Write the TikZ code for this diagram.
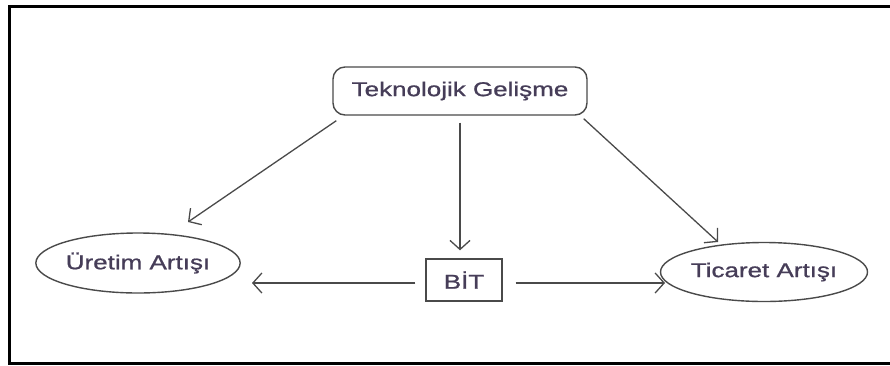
\documentclass[tikz,border=0pt]{standalone}
\usepackage{fontspec}
\setmainfont[FakeBold=0.8]{Liberation Sans}
\usetikzlibrary{arrows.meta,shapes.geometric}
\definecolor{ink}{HTML}{463D58}
\definecolor{edge}{HTML}{4A4A4A}
\newcommand{\widetxt}[1]{\scalebox{1.3}[1]{#1}}
\tikzset{
  lbl/.style={text=ink, font=\fontsize{20}{22}\selectfont, inner sep=0pt},
  roundbox/.style={lbl, draw=edge, line width=1.4pt, rounded corners=12pt,
    minimum width=254pt, minimum height=48pt},
  oval/.style={lbl, ellipse, draw=edge, line width=1.4pt},
  squarebox/.style={lbl, draw=edge, line width=1.4pt, minimum width=76pt, minimum height=42pt},
  arr/.style={draw=edge, line width=1.3pt, -{Straight Barb[length=9pt,width=20pt,line width=1.3pt]}}
}
\begin{document}
\begin{tikzpicture}[x=1pt,y=-1pt]
  \useasboundingbox (0,0) rectangle (890,365);
  % frame
  \draw[line width=3pt] (9,6.5) rectangle (898,363);

  % nodes
  \node[roundbox] (tek) at (460,91) {\widetxt{Teknolojik Gelişme}};
  \node[oval, minimum width=197pt, minimum height=60pt] (ure) at (138,263) {\widetxt{Üretim Artışı}};
  \node[oval, minimum width=182pt, minimum height=59pt] (tic) at (764,272) {\widetxt{Ticaret Artışı}};
  \node[squarebox] (bit) at (464,280) {\widetxt{BİT}};

  % arrow tips
  \coordinate (ureTip) at (188,222);
  \coordinate (ticTip) at (718,242);
  \coordinate (ureSide) at (252,283);
  \coordinate (ticSide) at (665,283);

  % connectors
  \draw[arr] ([shift={(4,5)}]tek.south west) -- (ureTip);
  \draw[arr] ([shift={(-4,3)}]tek.south east) -- (ticTip);
  \draw[arr] ([shift={(0,7)}]tek.south) -- ([shift={(-4,-8)}]bit.north);
  \draw[arr] ([shift={(-10,3)}]bit.west) -- (ureSide);
  \draw[arr] ([shift={(13,3)}]bit.east) -- (ticSide);
\end{tikzpicture}
\end{document}
